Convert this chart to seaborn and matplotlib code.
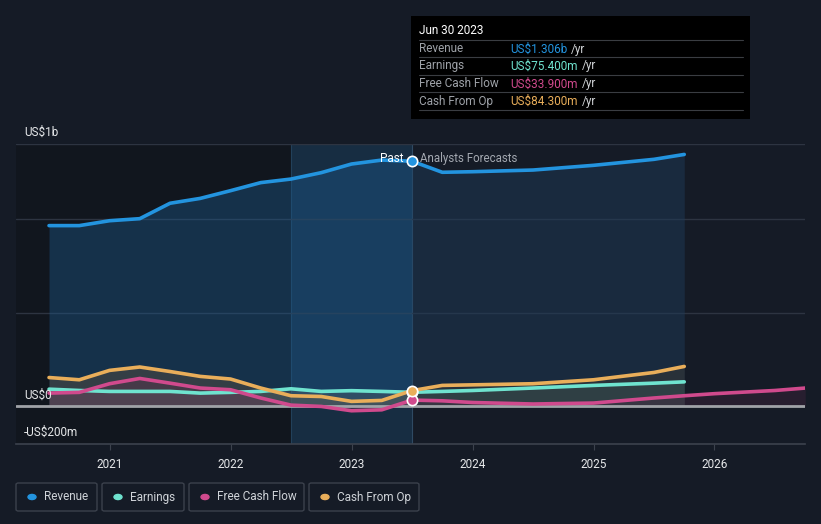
import numpy as np
import pandas as pd
import matplotlib
matplotlib.use("Agg")
import matplotlib.pyplot as plt
from matplotlib.patches import Rectangle, FancyBboxPatch
import seaborn as sns

# ---------------- data (US$ billions) ----------------
past_t = [2020.5, 2020.75, 2021.0, 2021.25, 2021.5, 2021.75, 2022.0, 2022.25,
          2022.5, 2022.75, 2023.0, 2023.25, 2023.5]
rev_past = [0.963, 0.963, 0.989, 1.000, 1.082, 1.108, 1.149, 1.192,
            1.211, 1.245, 1.291, 1.312, 1.306]
earn_past = [0.092, 0.085, 0.080, 0.080, 0.080, 0.071, 0.075, 0.080,
             0.094, 0.080, 0.084, 0.080, 0.0754]
fcf_past = [0.071, 0.075, 0.121, 0.149, 0.124, 0.098, 0.089, 0.045,
            0.007, 0.000, -0.023, -0.018, 0.0339]
cfo_past = [0.154, 0.142, 0.192, 0.210, 0.186, 0.160, 0.146, 0.098,
            0.057, 0.053, 0.027, 0.032, 0.0843]

fc_t = [2023.5, 2023.75, 2024.0, 2024.5, 2025.0, 2025.5, 2025.75]
rev_fc = [1.306, 1.247, 1.250, 1.259, 1.284, 1.316, 1.342]
earn_fc = [0.0754, 0.080, 0.085, 0.098, 0.112, 0.124, 0.131]
cfo_fc = [0.0843, 0.112, 0.115, 0.121, 0.142, 0.181, 0.213]
fcf_fc_t = [2023.5, 2023.75, 2024.0, 2024.5, 2025.0, 2025.5, 2025.75, 2026.0, 2026.5, 2026.75]
fcf_fc = [0.0339, 0.030, 0.021, 0.013, 0.018, 0.045, 0.057, 0.068, 0.085, 0.098]

year_ticks = [2021, 2022, 2023, 2024, 2025, 2026]
series_names = ["Revenue", "Earnings", "Free Cash Flow", "Cash From Op"]
colors = ["#2394df", "#6fe3cf", "#d04a8d", "#e9ae5a"]
tooltip_vals = ["US$1.306b", "US$75.400m", "US$33.900m", "US$84.300m"]

# ---------------- style ----------------
BG = "#151b26"
sns.set_style("dark")
plt.rcParams["font.family"] = ["Roboto", "DejaVu Sans"]

fig = plt.figure(figsize=(8.21, 5.24), dpi=100, facecolor=BG)
W, H = 821, 524
ax = fig.add_axes([16 / W, 1 - 444 / H, (805 - 16) / W, (444 - 144.3) / H])
ax.set_facecolor(BG)

XMIN, XMAX = 2020.227, 2026.748
YMIN, YMAX = -0.2, 1.396
ax.set_xlim(XMIN, XMAX)
ax.set_ylim(YMIN, YMAX)

# darker past background
ax.axvspan(XMIN, 2022.5, color="#11161e", zorder=0, lw=0)
# highlight band (last year)
ax.axvspan(2022.5, 2023.5, color="#1a4466", alpha=0.45, zorder=0.5, lw=0)
ax.axvline(2022.5, color="#22405a", lw=0.8, zorder=0.6)
ax.axvline(2023.5, color="#2f4a63", lw=0.8, zorder=0.6)

# gridlines
for g in [0.5, 1.0, YMAX]:
    ax.axhline(g, color="#2d3441", lw=1, zorder=0.7)

# build long frame for seaborn
rows = []
for n, t, v in [("Revenue", past_t, rev_past), ("Earnings", past_t, earn_past),
                ("Free Cash Flow", past_t, fcf_past), ("Cash From Op", past_t, cfo_past)]:
    for a, b in zip(t, v):
        rows.append(dict(series=n, part="past", t=a, v=b))
for n, t, v in [("Revenue", fc_t, rev_fc), ("Earnings", fc_t, earn_fc),
                ("Free Cash Flow", fcf_fc_t, fcf_fc), ("Cash From Op", fc_t, cfo_fc)]:
    for a, b in zip(t, v):
        rows.append(dict(series=n, part="fc", t=a, v=b))
df = pd.DataFrame(rows)

# fills
fill_cfg = {
    "Revenue": ("#1c5a8e", 0.40, "#1e3a57", 0.50),
    "Earnings": ("#5a6a70", 0.35, "#3d5a5a", 0.35),
    "Free Cash Flow": ("#6a3050", 0.35, "#4a2540", 0.35),
    "Cash From Op": ("#5a5040", 0.45, "#3d3a35", 0.45),
}
for n in ["Revenue", "Cash From Op", "Earnings", "Free Cash Flow"]:
    cp, ap, cf, af = fill_cfg[n]
    d1 = df[(df.series == n) & (df.part == "past")]
    d2 = df[(df.series == n) & (df.part == "fc")]
    ax.fill_between(d1.t, d1.v, 0, color=cp, alpha=ap, lw=0, zorder=1)
    ax.fill_between(d2.t, d2.v, 0, color=cf, alpha=af, lw=0, zorder=1)

# zero line
ax.axhline(0, color="#a0a3a8", lw=2, zorder=2)

pal = dict(zip(series_names, colors))
for part in ["past", "fc"]:
    sns.lineplot(data=df[df.part == part], x="t", y="v", hue="series",
                 palette=pal, lw=2.6, ax=ax, legend=False, zorder=3,
                 estimator=None, sort=True, solid_joinstyle="round",
                 solid_capstyle="round")

# markers at Jun 30 2023
for n, v in [("Earnings", earn_past[-1]), ("Free Cash Flow", fcf_past[-1]),
             ("Cash From Op", cfo_past[-1]), ("Revenue", rev_past[-1])]:
    ax.scatter([2023.5], [v], s=55, color=pal[n], edgecolor="white", lw=1.2, zorder=5)

ax.text(2023.5 - 0.07, 1.322, "Past", color="white", fontsize=8.5, ha="right", va="center", zorder=6)
ax.text(2023.5 + 0.07, 1.322, "Analysts Forecasts", color="#a3a8b0", fontsize=8.3,
        ha="left", va="center", zorder=6)

# axes
for s in ["left", "right", "top"]:
    ax.spines[s].set_visible(False)
ax.spines["bottom"].set_color("#3c424d")
ax.spines["bottom"].set_linewidth(1.2)
ax.set_xticks(year_ticks)
ax.set_xticklabels([str(y) for y in year_ticks], color="#e6e8ea", fontsize=8.5)
ax.tick_params(axis="x", length=4, color="#3c424d", pad=6, bottom=True)
ax.set_yticks([])
ax.set_xlabel("")
ax.set_ylabel("")
ax.grid(False)

# y labels
fig.text(24 / W, 1 - 132 / H, "US$1b", color="#e6e8ea", fontsize=8.5, va="center")
fig.text(24 / W, 1 - 395 / H, "US$0", color="#e6e8ea", fontsize=8.5, va="center")
fig.text(24 / W, 1 - 432 / H, "-US$200m", color="#e6e8ea", fontsize=8.5, va="center")

# tooltip
fig.patches.append(Rectangle((411 / W, 1 - 119 / H), (750 - 411) / W, (119 - 16) / H,
                             transform=fig.transFigure, facecolor="#000000",
                             edgecolor="none", zorder=10))
fig.text(419 / W, 1 - 31 / H, "Jun 30 2023", color="white", fontsize=8.5, va="center", zorder=11)
row_y = [49, 66, 84, 101]
fig.canvas.draw()
renderer = fig.canvas.get_renderer()
for i, (n, v) in enumerate(zip(series_names, tooltip_vals)):
    yl = row_y[i] - 9
    fig.lines.append(plt.Line2D([419 / W, 743 / W], [1 - yl / H, 1 - yl / H],
                                transform=fig.transFigure, color="#3a3d42", lw=0.8, zorder=11))
    fig.text(419 / W, 1 - row_y[i] / H, n, color="#9ea2a8", fontsize=8.5, va="center", zorder=11)
    t = fig.text(510 / W, 1 - row_y[i] / H, v, color=colors[i], fontsize=8.5, va="center", zorder=11)
    bb = t.get_window_extent(renderer=renderer)
    fig.text((bb.x1 + 4) / W, 1 - row_y[i] / H, "/yr", color="#d0d3d6", fontsize=8.5,
             va="center", zorder=11)
fig.lines.append(plt.Line2D([419 / W, 743 / W], [1 - 110 / H, 1 - 110 / H],
                            transform=fig.transFigure, color="#3a3d42", lw=0.8, zorder=11))

# legend boxes
boxes = [(16, 97), (102, 184), (189, 304), (309, 419)]
for (x0, x1), n, c in zip(boxes, series_names, colors):
    fig.patches.append(FancyBboxPatch((x0 / W, 1 - 511 / H), (x1 - x0) / W, 28 / H,
                                      boxstyle="round,pad=0,rounding_size=0.003",
                                      transform=fig.transFigure, facecolor="none",
                                      edgecolor="#3b414c", lw=1, zorder=10))
    fig.patches.append(plt.Circle(((x0 + 16) / W, 1 - 497 / H), 4 / W,
                                  transform=fig.transFigure, color=c, zorder=11))
    fig.text((x0 + 28) / W, 1 - 497 / H, n, color="#cfd3d8", fontsize=8.5, va="center", zorder=11)

fig.savefig("out.png", dpi=100, facecolor=BG)
